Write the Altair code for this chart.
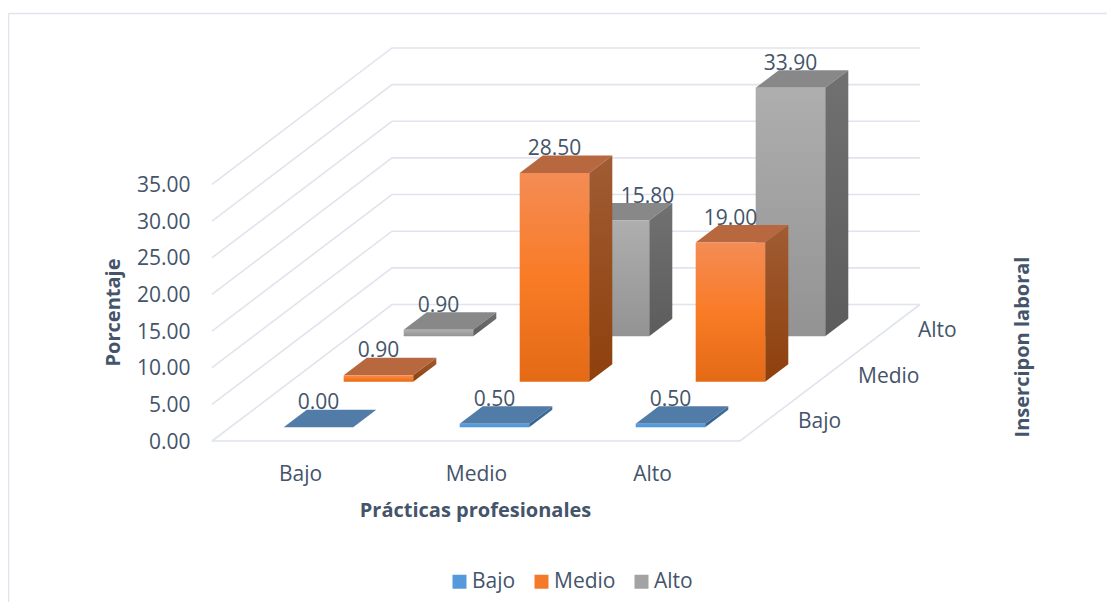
import altair as alt
import pandas as pd

# ---- values ----
categories = ["Bajo", "Medio", "Alto"]          # Prácticas profesionales (x)
series = ["Bajo", "Medio", "Alto"]              # Inserción laboral (depth)
bajo = [0.00, 0.50, 0.50]
medio = [0.90, 28.50, 19.00]
alto = [0.90, 15.80, 33.90]
ticks = [0, 5, 10, 15, 20, 25, 30, 35]

# ---- oblique projection ----
X0, Y0 = 212.0, 441.0      # page position of front-left floor corner
CAT = 176.0                # px per category
VAL = 7.33                 # px per value unit
DX, DY = 60.0, 45.5        # px per depth row
W, H = 1099, 594


def xp(c, r):
    return c + r * DX / CAT


def yp(v, r):
    return v + r * DY / VAL


def pgx(x):
    return (x - X0) / CAT


def pgy(y):
    return (Y0 - y) / VAL


x_scale = alt.Scale(domain=[pgx(8), pgx(8 + W)], nice=False, zero=False)
y_scale = alt.Scale(domain=[pgy(8 + H), pgy(8)], nice=False, zero=False)

FONT = "Open Sans"
TXT = "#44546A"
GRID = "#E0E4EC"
FS = 21
TS = 20

AX_X = 194
AX_Y = 463
y_axis = alt.Axis(
    values=ticks, format=".2f", grid=False, domain=False, ticks=False, labelPadding=4, labelOffset=1,
    labelFont=FONT, labelFontSize=FS, labelColor=TXT, offset=-(AX_X - 8),
    title="Porcentaje", titleFont=FONT, titleFontSize=TS, titleFontWeight="bold", titleColor=TXT,
    titleAngle=270, titleX=113 - AX_X, titleY=312 - 8, titleAlign="center", titleBaseline="middle",
)
x_axis = alt.Axis(
    values=[0.5, 1.5, 2.5],
    labelExpr="['" + "','".join(categories) + "'][floor(datum.value)]",
    grid=False, domain=False, ticks=False, labelPadding=0, labelAngle=0,
    labelFont=FONT, labelFontSize=FS, labelColor=TXT, offset=-(8 + H - AX_Y),
    title="Prácticas profesionales", titleFont=FONT, titleFontSize=TS, titleFontWeight="bold",
    titleColor=TXT, titleX=475 - 8, titleY=510 - AX_Y, titleAlign="center", titleBaseline="middle",
)


def X(name="x"):
    return alt.X(f"{name}:Q", scale=x_scale, axis=x_axis)


def Y(name="y"):
    return alt.Y(f"{name}:Q", scale=y_scale, axis=y_axis, stack=False)


def grad(*stops):
    n = len(stops) - 1
    return alt.Gradient(
        gradient="linear", x1=0, y1=0, x2=0, y2=1,
        stops=[alt.GradientStop(color=c, offset=i / n) for i, c in enumerate(stops)],
    )


# ---- walls and floor ----
grid_rows = []
for v in ticks:
    for k, (c, r) in enumerate([(0, 0), (0, 3), (3, 3)]):
        grid_rows.append(dict(id=f"w{v}", k=k, x=xp(c, r), y=yp(v, r)))
for k, (c, r) in enumerate([(0, 0), (3, 0), (3, 3)]):
    grid_rows.append(dict(id="floor", k=k, x=xp(c, r), y=yp(0, r)))
grid = alt.Chart(pd.DataFrame(grid_rows)).mark_line(
    color=GRID, strokeWidth=1.6, interpolate="linear"
).encode(x=X(), y=Y(), detail="id:N", order="k:Q")

# ---- chart frame ----
frame_rows = [
    dict(id="t", k=0, x=pgx(8.5), y=pgy(13.5)),
    dict(id="t", k=1, x=pgx(8 + W), y=pgy(13.5)),
    dict(id="l", k=0, x=pgx(8.5), y=pgy(13.5)),
    dict(id="l", k=1, x=pgx(8.5), y=pgy(8 + H)),
]
frame = alt.Chart(pd.DataFrame(frame_rows)).mark_line(color=GRID, strokeWidth=1.6).encode(
    x=X(), y=Y(), detail="id:N", order="k:Q"
)

# ---- bars ----
A0, A1 = 0.305, 0.70
STYLES = {
    "Bajo": dict(front=grad("#5AA0E0", "#4C94D8"), side=grad("#3F6F9C", "#34618C"), top="#527CA8"),
    "Medio": dict(front=grad("#F48C55", "#F97B26", "#E46A16"), side=grad("#A05C33", "#8E400C"), top="#B8683F"),
    "Alto": dict(front=grad("#AEAEAE", "#939393"), side=grad("#717171", "#5C5C5C"), top="#888888"),
}
vals = {"Bajo": bajo, "Medio": medio, "Alto": alto}
label_shift = {("Alto", 1): 33 / CAT}   # this label sits to the right in the original

bar_layers = []
label_rows = []
for row in [2, 1, 0]:
    name = series[row]
    st = STYLES[name]
    front, side, top = [], [], []
    for i, v in enumerate(vals[name]):
        c0, c1 = i + A0, i + A1
        r0, r1 = row + 0.3, row + 0.685
        front.append(dict(x=xp(c0, r0), x2=xp(c1, r0), y=yp(v, r0), y2=yp(0, r0)))
        for k, r in enumerate([r0, r1]):
            top.append(dict(id=i, y=yp(v, r), x=xp(c0, r), x2=xp(c1, r)))
            side.append(dict(id=i, x=xp(c1, r), y=yp(v, r), y2=yp(0, r)))
        label_rows.append(dict(
            x=xp((c0 + c1) / 2, r0) + label_shift.get((name, i), 0),
            y=yp(v, r1) + 6.5 / VAL, t=f"{v:.2f}",
        ))
    bar_layers.append(
        alt.Chart(pd.DataFrame(top)).mark_area(orient="horizontal", fill=st["top"]).encode(
            y=Y(), x=X(), x2="x2:Q", detail="id:N"
        )
    )
    bar_layers.append(
        alt.Chart(pd.DataFrame(side)).mark_area(orient="vertical", fill=st["side"]).encode(
            x=X(), y=Y(), y2="y2:Q", detail="id:N"
        )
    )
    bar_layers.append(
        alt.Chart(pd.DataFrame(front)).mark_rect(fill=st["front"]).encode(
            x=X(), x2="x2:Q", y=Y(), y2="y2:Q"
        )
    )

labels = alt.Chart(pd.DataFrame(label_rows)).mark_text(
    font=FONT, fontSize=FS, color=TXT, baseline="middle", align="center"
).encode(x=X(), y=Y(), text="t:N")

# ---- depth axis labels ----
depth_rows = [
    dict(x=xp(3, j + 0.5) + 28 / CAT, y=yp(0, j + 0.5) - 4 / VAL, t=s) for j, s in enumerate(series)
]
depth = alt.Chart(pd.DataFrame(depth_rows)).mark_text(
    font=FONT, fontSize=FS, color=TXT, baseline="middle", align="left"
).encode(x=X(), y=Y(), text="t:N")

depth_title = alt.Chart(
    pd.DataFrame([dict(x=pgx(1023), y=pgy(347), t="Insercipon laboral")])
).mark_text(
    font=FONT, fontSize=TS, fontWeight="bold", color=TXT, angle=270, baseline="middle", align="center"
).encode(x=X(), y=Y(), text="t:N")

# ---- legend ----
legend = alt.Chart(pd.DataFrame(dict(s=series, x=[0.5] * 3, y=[0.0] * 3))).mark_square(size=0, opacity=1).encode(
    x=X(), y=Y(),
    color=alt.Color(
        "s:N",
        scale=alt.Scale(domain=series, range=["#5599DC", "#F47A2A", "#A3A3A3"]),
        legend=alt.Legend(
            title=None, orient="none", direction="horizontal", legendX=449 - 8, legendY=571 - 8,
            symbolType="square", symbolSize=196, labelFont=FONT, labelFontSize=FS, labelColor=TXT,
            columnPadding=15, labelOffset=2, columns=3, symbolStrokeWidth=0,
        ),
    ),
)

chart = alt.layer(frame, grid, *bar_layers, labels, depth, depth_title, legend).properties(
    width=W, height=H, padding=0, autosize=alt.AutoSizeParams(type="none"),
    background="white",
).configure_view(strokeWidth=0)

chart.save("out.html", embed_options={"renderer": "svg", "actions": False})
